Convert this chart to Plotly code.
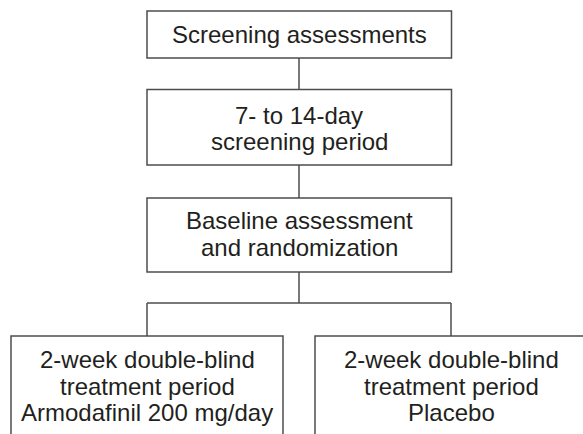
import plotly.graph_objects as go

# ---- content (text of the flowchart) ----
stage_labels = [
    ["Screening assessments"],
    ["7- to 14-day", "screening period"],
    ["Baseline assessment", "and randomization"],
]
arm_labels = [
    ["2-week double-blind", "treatment period", "Armodafinil 200 mg/day"],
    ["2-week double-blind", "treatment period", "Placebo"],
]

# ---- layout geometry (pixels, y downward) ----
W, H = 583, 434
stage_boxes = [(147, 451.5, 11, 58), (147, 451.5, 89.5, 165), (147, 451.5, 198, 272)]
stage_baselines = [[43.3], [124.3, 150.3], [229.3, 255.7]]
arm_boxes = [(11, 283, 336, 460), (315, 587, 336, 460)]
arm_baselines = [367.8, 394.4, 421.0]
trunk_x = 299
split_y = 303

LINE = "#4d4d4d"
TEXT = "#231f20"
FONT = "Liberation Sans, Arial, sans-serif"
FS = 24
MID_OFFSET = 0.3465 * FS  # baseline -> middle of text box

fig = go.Figure()
shapes = []
annotations = []

def box(x0, x1, y0, y1):
    shapes.append(dict(type="rect", xref="x", yref="y", x0=x0, x1=x1, y0=y0, y1=y1,
                       line=dict(color=LINE, width=1.5), fillcolor="rgba(0,0,0,0)"))

def seg(x0, y0, x1, y1):
    shapes.append(dict(type="line", xref="x", yref="y", x0=x0, x1=x1, y0=y0, y1=y1,
                       line=dict(color=LINE, width=1.5)))

def label(x, baseline, txt):
    annotations.append(dict(x=x, y=baseline - MID_OFFSET, xref="x", yref="y", text=txt,
                            showarrow=False, xanchor="center", yanchor="middle",
                            font=dict(family=FONT, size=FS, color=TEXT)))

for (x0, x1, y0, y1), lines, bls in zip(stage_boxes, stage_labels, stage_baselines):
    box(x0, x1, y0, y1)
    for t, b in zip(lines, bls):
        label((x0 + x1) / 2, b, t)

# connectors between stages
for i in range(len(stage_boxes) - 1):
    seg(trunk_x, stage_boxes[i][3], trunk_x, stage_boxes[i + 1][2])

# split to arms
seg(trunk_x, stage_boxes[-1][3], trunk_x, split_y)
arm_centers = [147, 451]
seg(arm_centers[0], split_y, arm_centers[1], split_y)
for cx, (x0, x1, y0, y1), lines in zip(arm_centers, arm_boxes, arm_labels):
    seg(cx, split_y, cx, y0)
    box(x0, x1, y0, y1)
    for t, b in zip(lines, arm_baselines):
        label(cx, b, t)

fig.update_layout(
    width=W, height=H,
    margin=dict(l=0, r=0, t=0, b=0),
    paper_bgcolor="white", plot_bgcolor="white",
    xaxis=dict(range=[0, W], visible=False, fixedrange=True),
    yaxis=dict(range=[H, 0], visible=False, fixedrange=True),
    shapes=shapes, annotations=annotations,
    showlegend=False,
)
fig.write_html(
    "out.html",
    config={"displayModeBar": False},
    post_script="document.body.style.margin='0';document.body.style.overflow='hidden';",
)
